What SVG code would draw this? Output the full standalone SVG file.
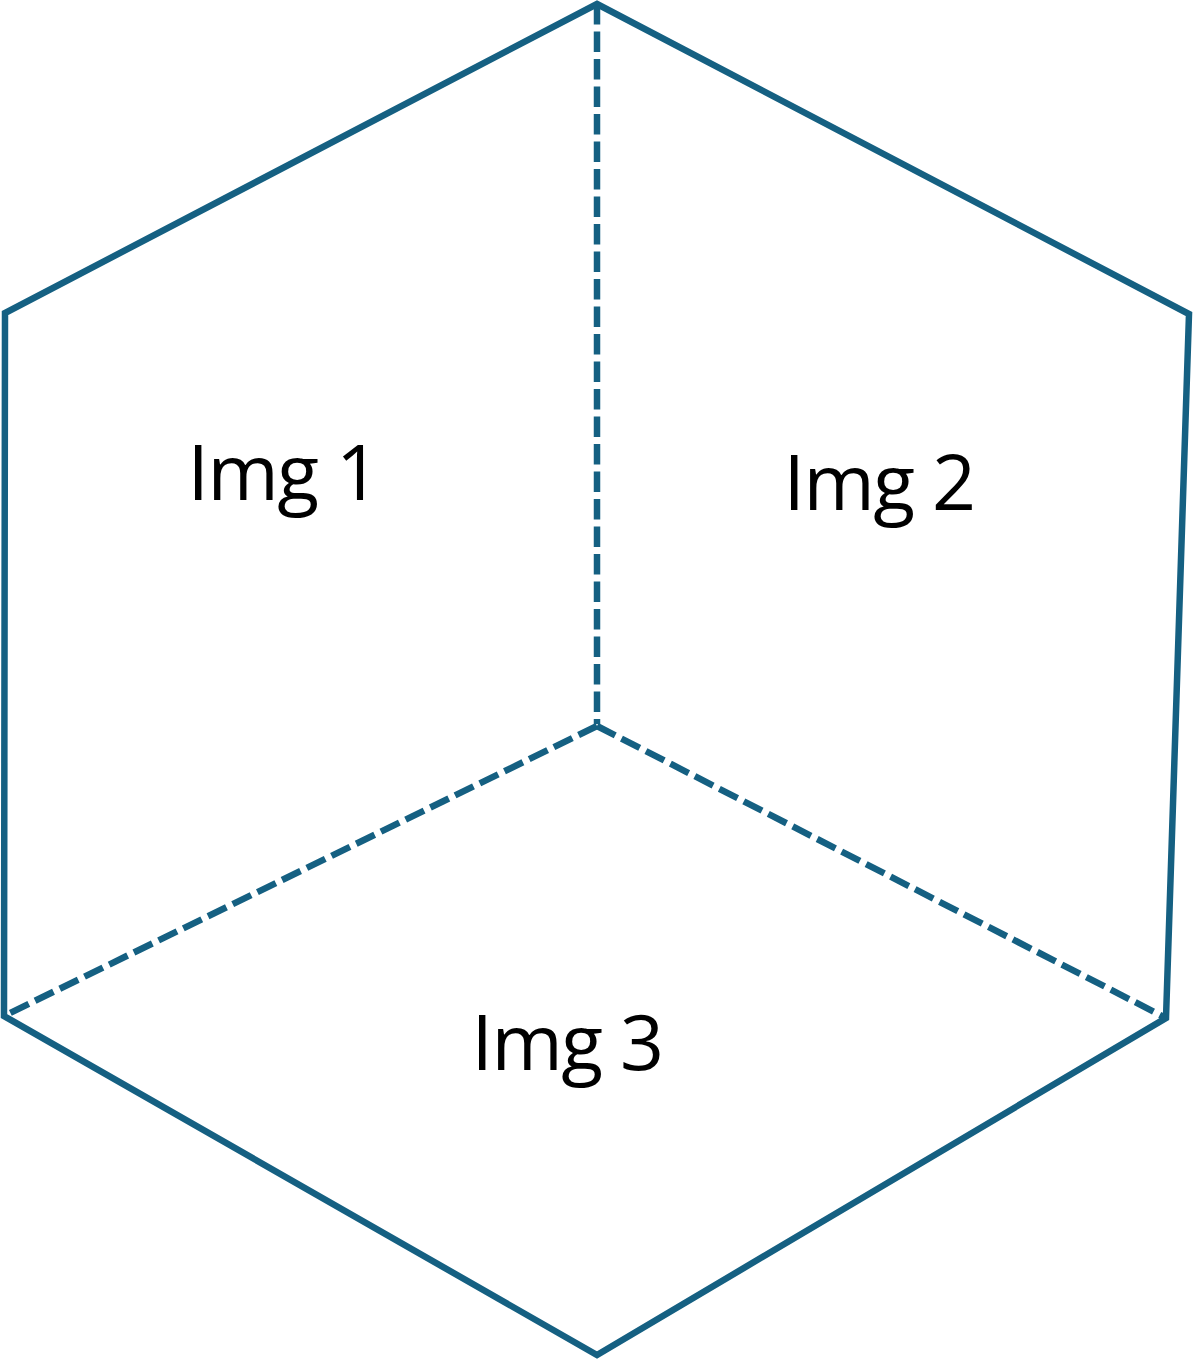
<svg xmlns="http://www.w3.org/2000/svg" width="1194" height="1359" viewBox="0 0 1194 1359">
<style>
.edge{fill:none;stroke:#156082;stroke-width:6.5;stroke-linejoin:miter}
.dash{fill:none;stroke:#156082;stroke-width:6.5;stroke-dasharray:20.5 7}
.lbl{font-family:"Open Sans","Liberation Sans",sans-serif;font-size:77px;fill:#000;text-anchor:middle;letter-spacing:-1.5px}
</style>
<rect width="1194" height="1359" fill="#fff"/>
<g id="hexagon">
<path class="edge" d="M597,4 L1189,314 L1166,1018 L597,1355 L4,1016 L5,313 Z"/>
</g>
<g id="connectors">
<line class="dash" x1="597" y1="4" x2="597" y2="724"/>
<line class="dash" x1="597" y1="726" x2="4" y2="1016"/>
<line class="dash" x1="597" y1="726" x2="1166" y2="1018"/>
</g>
<g id="img1"><text class="lbl" x="283" y="500">Img 1</text></g>
<g id="img2"><text class="lbl" x="879" y="510">Img 2</text></g>
<g id="img3"><text class="lbl" x="567" y="1070">Img 3</text></g>
</svg>
